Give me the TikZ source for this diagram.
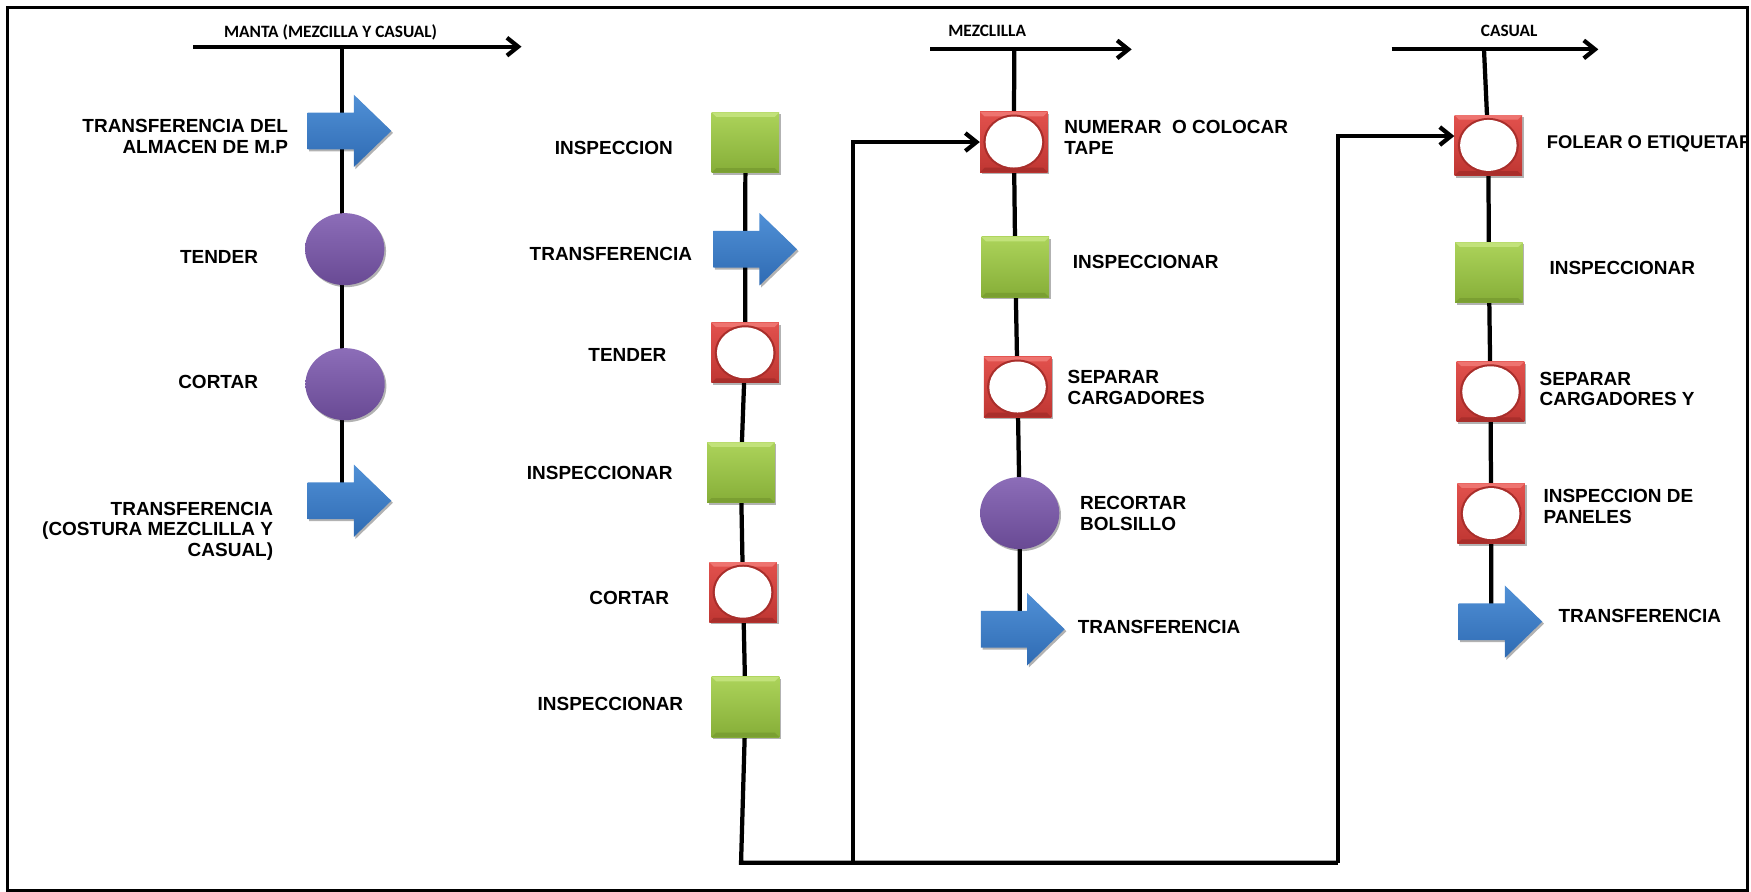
\documentclass[tikz,border=0pt]{standalone}
\usepackage{fontspec}
\setmainfont{Liberation Sans}
\newfontfamily\hdrfamily{Carlito}
\usetikzlibrary{arrows.meta,shapes.geometric,shapes.arrows,shadows,backgrounds}

\definecolor{grnT}{HTML}{ACD35A}
\definecolor{grnB}{HTML}{86AE38}
\definecolor{grnL}{HTML}{C2E27A}
\definecolor{grnD}{HTML}{7A9F32}
\definecolor{redT}{HTML}{E2514D}
\definecolor{redB}{HTML}{BF3632}
\definecolor{redL}{HTML}{EE7470}
\definecolor{redD}{HTML}{A92E2B}
\definecolor{purT}{HTML}{8C6DB8}
\definecolor{purB}{HTML}{694A94}
\definecolor{bluT}{HTML}{5090D6}
\definecolor{bluB}{HTML}{2F6BB3}

\newcommand\lblfont{\fontsize{17}{18.5}\selectfont\bfseries}
\newcommand\hdrfont{\hdrfamily\fontsize{15.5}{17}\selectfont\bfseries}
% bevel strips of the boxes
\newcommand\bevelbox[2]{%
  \fill[#1] (path picture bounding box.north west) -- (path picture bounding box.north east)
    -- ([shift={(-4pt,-4pt)}]path picture bounding box.north east)
    -- ([shift={(4pt,-4pt)}]path picture bounding box.north west) -- cycle;
  \fill[#2] (path picture bounding box.south west) -- (path picture bounding box.south east)
    -- ([shift={(-4pt,4pt)}]path picture bounding box.south east)
    -- ([shift={(4pt,4pt)}]path picture bounding box.south west) -- cycle;}
\newcommand\holeoval{%
  \fill[redD] (path picture bounding box.center) ellipse [x radius=27.3pt, y radius=24.6pt];
  \fill[white] (path picture bounding box.center) ellipse [x radius=25.3pt, y radius=22.8pt];}

\begin{document}
\begin{tikzpicture}
  [x=1pt, y=-1pt,
   flowln/.style={line width=3.8pt},
   hdrarrow/.style={line width=3.8pt, -{Straight Barb[length=10pt,width=16pt]}},
   looparrow/.style={line width=3.8pt, -{Straight Barb[length=10pt,width=16pt]}},
   shdw/.style={drop shadow={shadow xshift=1.5pt, shadow yshift=-1.8pt, opacity=.3, fill=black}},
   insp/.style={rectangle, minimum width=60.5pt, minimum height=54pt, inner sep=0pt,
     top color=grnT, bottom color=grnB, shdw, path picture={\bevelbox{grnL}{grnD}}},
   oper/.style={rectangle, minimum width=60.5pt, minimum height=54pt, inner sep=0pt,
     top color=redT, bottom color=redB, shdw, path picture={\bevelbox{redL}{redD}\holeoval}},
   proc/.style={ellipse, minimum width=71pt, minimum height=64.5pt, inner sep=0pt,
     top color=purT, bottom color=purB, shdw},
   trans/.style={single arrow, single arrow head extend=16pt, single arrow tip angle=88,
     text height=16.25pt, text depth=16.25pt, minimum height=75pt, inner sep=0pt, anchor=tip,
     top color=bluT, bottom color=bluB, shdw},
   lblL/.style={font=\lblfont, inner sep=0pt, align=left, anchor=north west},
   lblR/.style={font=\lblfont, inner sep=0pt, align=right, anchor=north east},
   hdrlbl/.style={font=\hdrfont, inner sep=0pt, anchor=base}]

  \useasboundingbox (0,0) rectangle (1568,798);
  \draw [line width=3pt] (7,6.5) rectangle (1565,797.5);

  % manta
  \node [hdrlbl] (tm) at (296,33.4) {MANTA (MEZCILLA Y CASUAL)};
  \coordinate (mL) at (173,41.8);
  \coordinate (mR) at (467,41.8);
  \coordinate (m0) at (306.5,41.8);
  \draw [hdrarrow] (mL) -- (mR);
  \node [trans] (a1) at (350.7,117.2) {};
  \node [proc] (c1) at (308.7,223.1) {};
  \node [proc] (c2) at (309,344) {};
  \node [trans] (a2) at (350.7,448.4) {};
  \node [lblR] (la1) at (258.2,106.9) {TRANSFERENCIA DEL\\ALMACEN DE M.P};
  \node [lblR] (lc1) at (231.3,224) {TENDER};
  \node [lblR] (lc2) at (231.3,335.9) {CORTAR};
  \node [lblR] (la2) at (244.8,449.3) {TRANSFERENCIA\\(COSTURA MEZCLILLA Y\\CASUAL)};

  % corte
  \node [insp] (s1) at (667.5,127.6) {};
  \node [trans] (a3) at (714,223.2) {};
  \node [oper] (r1) at (667.3,315.9) {};
  \node [insp] (s2) at (663.4,423.1) {};
  \node [oper] (r2) at (665.4,530.3) {};
  \node [insp] (s3) at (667.6,633.1) {};
  \node [lblR] (ls1) at (602.8,126.7) {INSPECCION};
  \node [lblR] (la3) at (620,221) {TRANSFERENCIA};
  \node [lblR] (lr1) at (597,312.1) {TENDER};
  \node [lblR] (ls2) at (602.4,417.7) {INSPECCIONAR};
  \node [lblR] (lr2) at (599.4,529.1) {CORTAR};
  \node [lblR] (ls3) at (612,623.9) {INSPECCIONAR};
  \coordinate (b1) at (663.6,772.5);
  \coordinate (b2) at (764,772.5);
  \coordinate (b3) at (1198,772.5);

  % mezclilla
  \node [hdrlbl] (tz) at (884,32.8) {MEZCLILLA};
  \coordinate (zL) at (832.8,44.2);
  \coordinate (zR) at (1013.4,44.2);
  \coordinate (m3) at (908.3,44.2);
  \draw [hdrarrow] (zL) -- (zR);
  \node [oper] (n1) at (907.9,127.2) {};
  \node [insp] (n2) at (909.2,239.2) {};
  \node [oper] (n3) at (911.2,346.6) {};
  \node [proc] (n4) at (913.1,459.5) {};
  \node [trans] (n5) at (953.7,563.5) {};
  \node [lblL] (ln1) at (953,107.5) {NUMERAR\ \ O COLOCAR\\TAPE};
  \node [lblL] (ln2) at (960.6,228.4) {INSPECCIONAR};
  \node [lblL] (ln3) at (955.8,331.4) {SEPARAR\\CARGADORES};
  \node [lblL] (ln4) at (967,444.2) {RECORTAR\\BOLSILLO};
  \node [lblL] (ln5) at (965,555.3) {TRANSFERENCIA};

  % casual
  \node [hdrlbl] (tc) at (1351.4,32.8) {CASUAL};
  \coordinate (cL) at (1246.2,44.2);
  \coordinate (cR) at (1431.3,44.2);
  \coordinate (m4) at (1328.9,44.2);
  \draw [hdrarrow] (cL) -- (cR);
  \node [oper] (f1) at (1332.8,130.2) {};
  \node [insp] (f2) at (1333.3,244) {};
  \node [oper] (f3) at (1334.7,350.8) {};
  \node [oper] (f4) at (1335.3,459.9) {};
  \node [trans] (f5) at (1381.4,556.7) {};
  \begin{scope}
    \clip (7,6.5) rectangle (1564,797);
    \node [lblL, font=\fontsize{16.5}{18.5}\selectfont\bfseries] (lf1) at (1385,121) {FOLEAR O ETIQUETAR};
  \end{scope}
  \node [lblL] (lf2) at (1387.4,233.8) {INSPECCIONAR};
  \node [lblL] (lf3) at (1378.5,332.9) {SEPARAR\\CARGADORES Y};
  \node [lblL] (lf4) at (1382,438) {INSPECCION DE\\PANELES};
  \node [lblL] (lf5) at (1395.5,545.4) {TRANSFERENCIA};

  \begin{scope}[on background layer]
    \draw [flowln] (m0) -- (m0 |- a1) -- (m0 |- c1) -- (m0 |- c2) -- (m0 |- a2);
    \draw [flowln] (s1.center) -- (r1.center) -- (s2.center) -- (r2.center) -- (s3.center) -- (b1) -- (b3);
    \draw [flowln] (m3) -- (n1.center) -- (n2.center) -- (n3.center) -- (n4.center) -- (n4 |- n5);
    \draw [flowln] (m4) -- (f1.center) -- (f2.center) -- (f3.center) -- (f4.center) -- (f4 |- f5);
  \end{scope}
  \draw [looparrow] (b2) |- (n1);
  \draw [looparrow] (b3) |- ([yshift=8.4pt]f1.west);
\end{tikzpicture}
\end{document}
